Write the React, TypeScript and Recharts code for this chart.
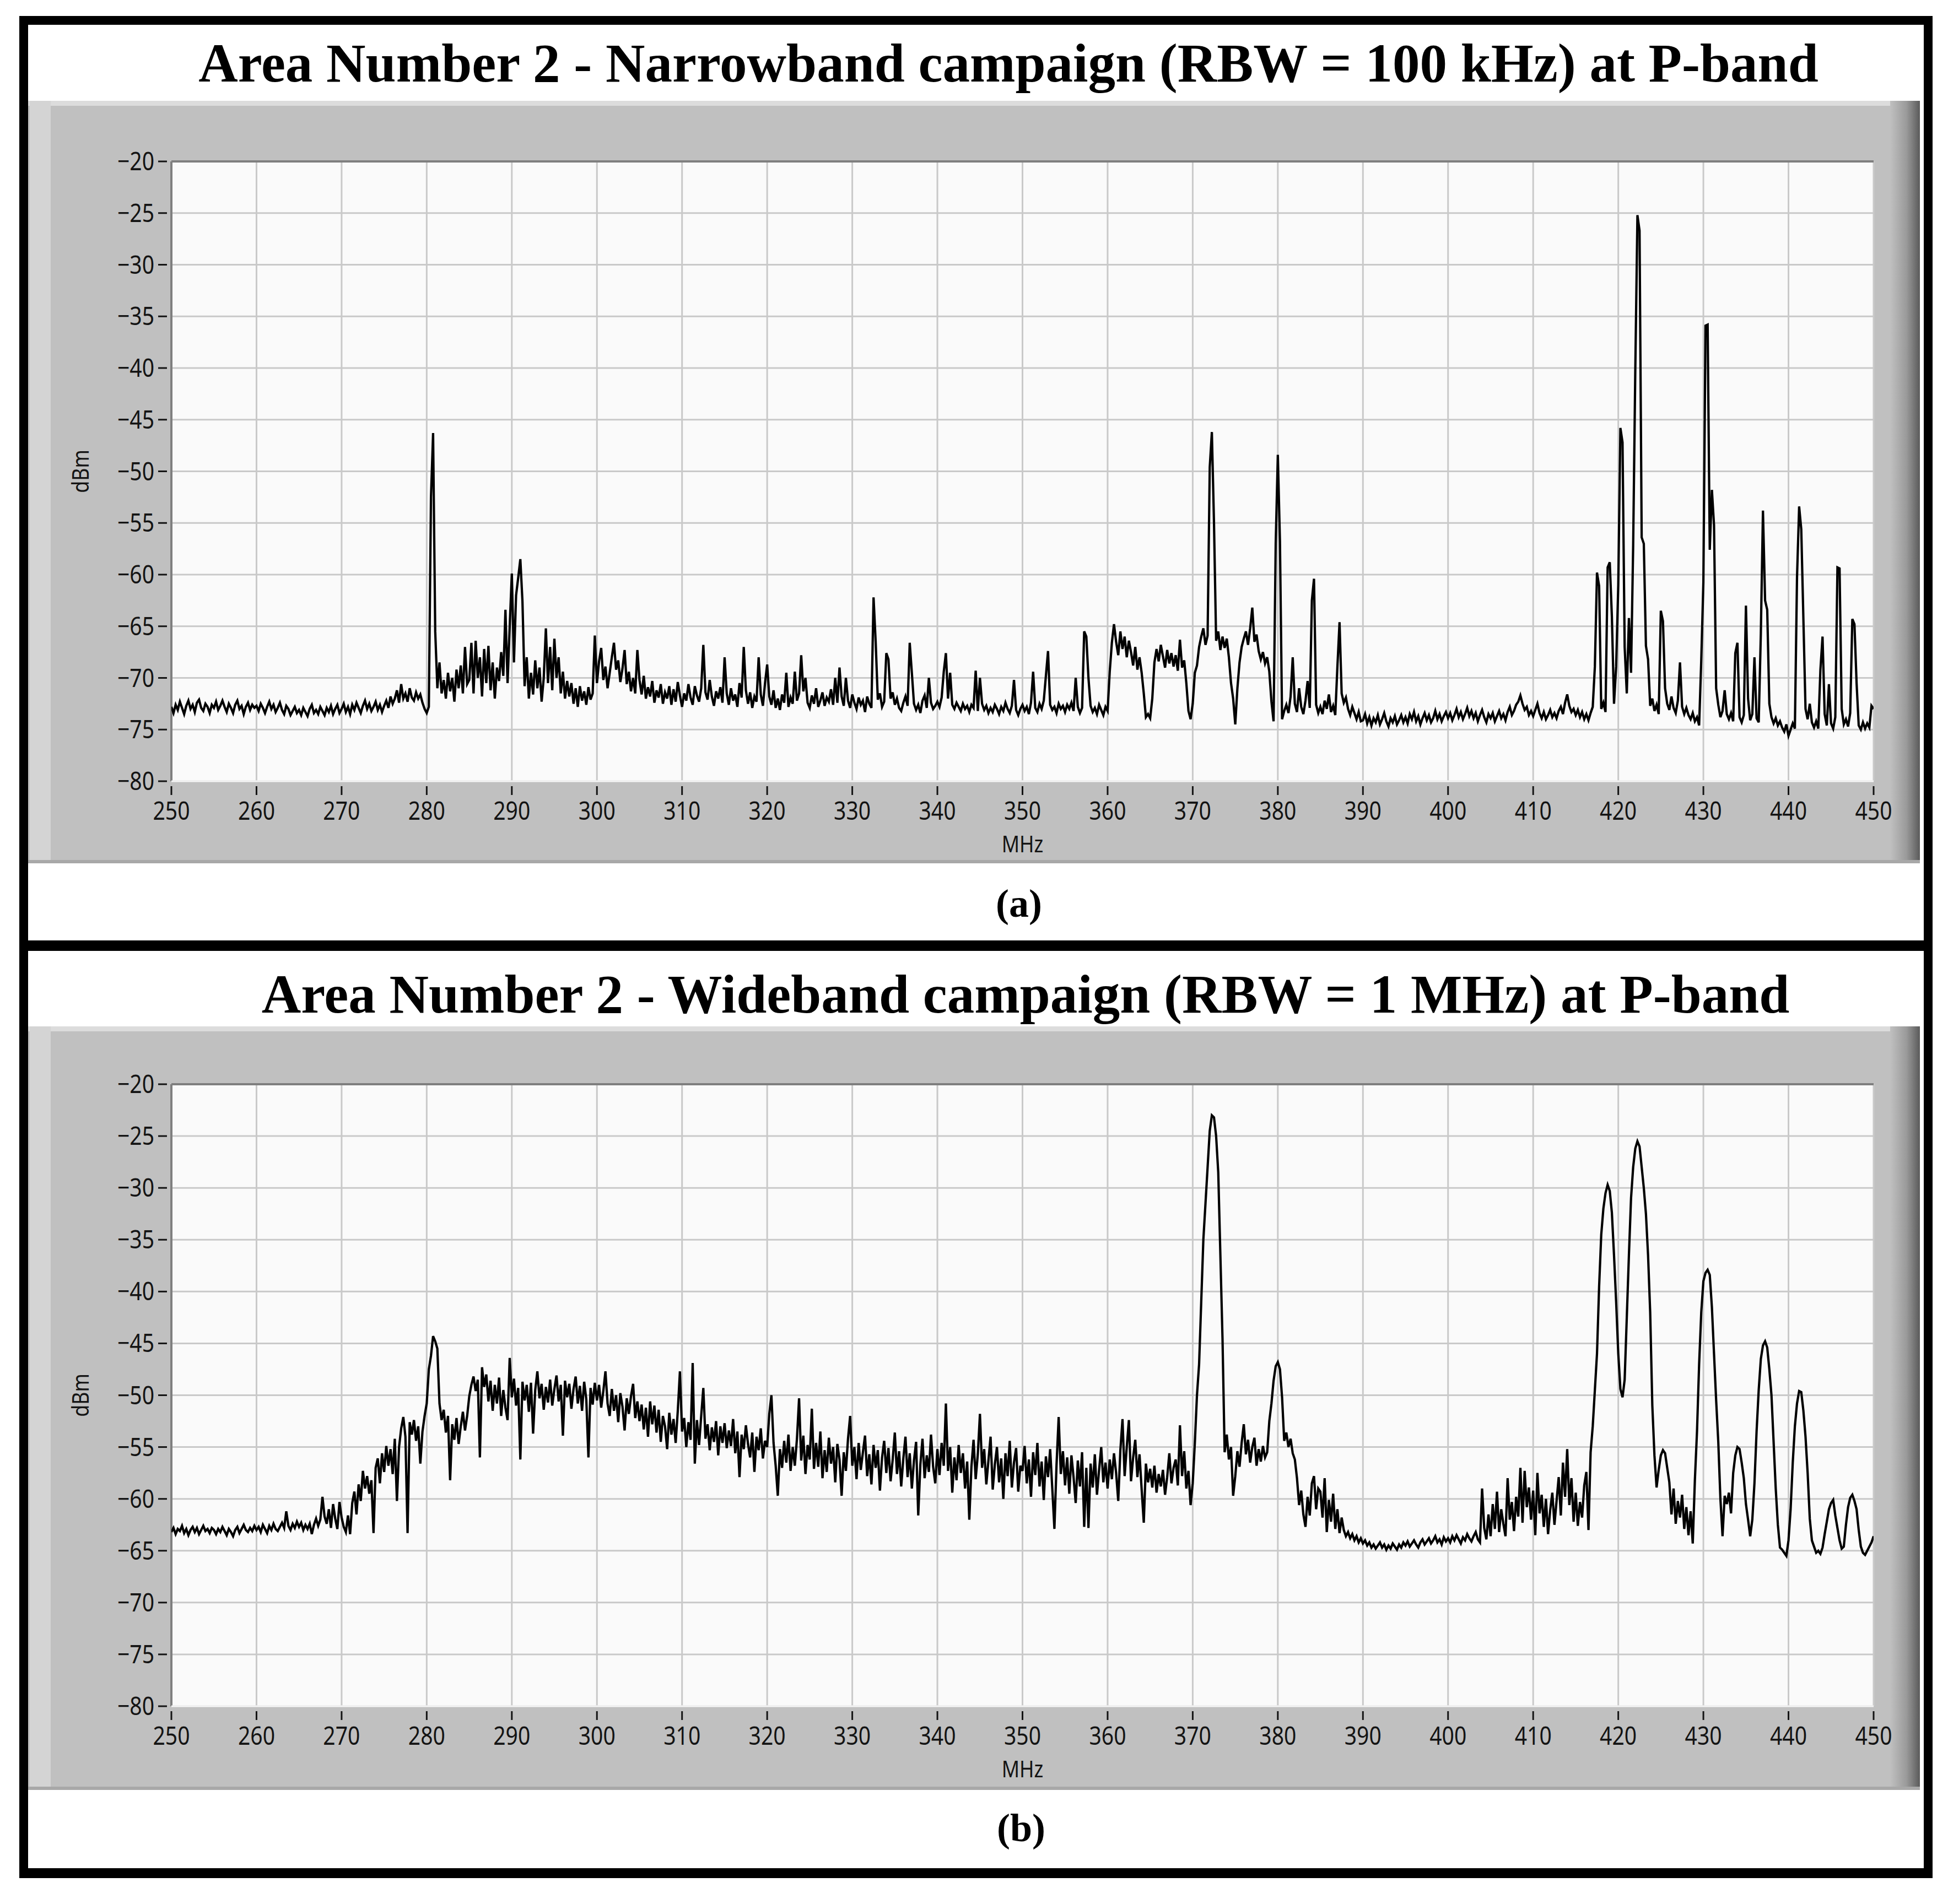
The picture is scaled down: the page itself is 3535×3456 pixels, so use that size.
import React from 'react';
import { LineChart, Line, XAxis, YAxis, CartesianGrid, ReferenceLine } from 'recharts';

// sweep starts at 250 MHz, one reading every 0.25 MHz (801 readings per trace)
const FREQ_START = 250;
const FREQ_STEP = 0.25;

const X_TICKS = [250, 260, 270, 280, 290, 300, 310, 320, 330, 340, 350, 360, 370, 380, 390, 400, 410, 420, 430, 440, 450];
const Y_TICKS = [-80, -75, -70, -65, -60, -55, -50, -45, -40, -35, -30, -25, -20];

// (a) narrowband, RBW = 100 kHz
const NARROWBAND_DBM = [
  -72.8, -73.4, -72.6, -73.1, -72.3, -72.9, -73.5, -72.7, -72.2, -73.0, -72.6, -73.3, -72.4, -72.1, -72.9, -73.2, -72.5, -72.8, -73.4, -72.6,
  -72.9, -72.3, -73.1, -72.7, -72.2, -72.8, -73.3, -72.5, -72.9, -73.4, -72.6, -72.2, -73.0, -72.7, -73.5, -72.8, -72.4, -73.1, -72.6, -72.9,
  -72.7, -73.2, -72.5, -72.9, -73.4, -72.8, -72.3, -73.0, -72.6, -73.3, -72.9, -72.4, -73.1, -73.5, -72.7, -73.0, -73.6, -73.2, -72.8, -73.4,
  -73.1, -73.6, -72.9, -73.3, -73.7, -73.0, -72.6, -73.4, -73.1, -73.5, -72.8, -73.2, -73.6, -72.9, -73.3, -72.7, -73.5, -73.0, -72.6, -73.4,
  -73.0, -72.5, -73.3, -72.8, -73.5, -72.6, -73.1, -72.4, -72.9, -73.4, -72.7, -72.2, -73.0, -72.5, -73.2, -72.8, -72.3, -73.1, -72.6, -73.3,
  -72.7, -72.2, -72.9, -71.8, -72.5, -72.0, -71.2, -72.4, -70.6, -72.0, -71.5, -72.3, -71.0, -71.9, -72.2, -71.4, -72.0, -71.6, -72.4, -73.0,
  -73.4, -72.8, -52.5, -46.3, -65.5, -71.0, -68.5, -71.5, -70.2, -72.0, -69.5, -71.3, -70.0, -72.3, -69.2, -71.0, -68.8, -71.5, -67.0, -70.6,
  -70.2, -66.6, -71.5, -66.4, -70.0, -68.0, -71.8, -67.2, -70.5, -66.9, -71.2, -68.5, -72.0, -69.0, -70.3, -67.5, -69.8, -63.4, -70.5, -65.0,
  -59.9, -68.5, -62.0, -60.3, -58.5, -62.6, -70.8, -68.0, -72.0, -69.5, -71.6, -68.3, -71.0, -69.0, -72.3, -70.0, -65.2, -70.5, -67.0, -71.2,
  -66.2, -70.0, -68.0, -71.5, -69.4, -72.0, -70.3, -71.8, -70.5, -72.5, -71.0, -72.8, -70.8, -72.2, -71.3, -72.6, -70.9, -72.1, -71.5, -65.9,
  -70.5, -68.4, -67.1, -70.2, -68.9, -71.0, -69.5, -68.0, -66.6, -69.2, -68.3, -70.4, -69.1, -67.3, -70.6, -69.4, -71.3, -70.0, -71.5, -67.3,
  -70.2, -71.6, -69.8, -72.0, -70.9, -71.8, -70.3, -72.4, -71.2, -71.9, -70.6, -72.5, -71.4, -72.0, -70.8, -72.6, -71.1, -72.3, -70.4, -71.7,
  -72.8, -71.5, -72.2, -70.6, -71.9, -72.6, -70.8, -71.7, -72.3, -71.0, -66.8, -71.4, -72.1, -70.2, -71.8, -72.7, -71.3, -72.0, -70.9, -72.4,
  -68.0, -71.5, -72.6, -71.0, -72.2, -71.6, -72.8, -70.5, -71.9, -67.0, -71.2, -72.5, -71.4, -72.9, -71.8, -72.3, -68.0, -71.6, -72.7, -70.5,
  -68.7, -71.8, -72.6, -71.2, -72.9, -72.0, -73.1, -71.6, -72.4, -69.5, -72.8, -71.9, -72.5, -69.4, -72.2, -71.5, -67.8, -71.3, -70.0, -72.4,
  -72.9, -71.7, -72.5, -71.0, -72.8, -72.2, -71.4, -72.7, -71.9, -72.3, -71.1, -72.6, -70.0, -72.4, -69.0, -71.8, -72.7, -70.0, -72.2, -72.9,
  -71.6, -72.4, -73.0, -71.9, -72.6, -72.2, -73.3, -71.8, -72.5, -72.9, -62.2, -66.5, -72.1, -71.5, -72.8, -72.3, -67.6, -68.2, -72.0, -71.4,
  -72.6, -72.0, -72.9, -73.2, -72.4, -71.8, -72.7, -66.6, -69.5, -72.5, -73.1, -72.6, -73.4, -72.2, -71.7, -72.9, -70.0, -72.4, -73.0, -72.7,
  -72.3, -72.8, -71.9, -69.4, -67.6, -72.0, -69.5, -72.6, -73.0, -72.4, -72.8, -73.2, -72.5, -73.0, -72.7, -73.3, -72.6, -72.9, -69.3, -73.2,
  -70.0, -72.5, -73.1, -72.7, -73.4, -72.9, -73.3, -72.6, -73.0, -73.5, -72.8, -73.2, -72.4, -73.0, -73.4, -72.7, -70.2, -73.1, -73.6, -73.0,
  -72.6, -73.2, -72.8, -73.5, -72.4, -69.4, -72.9, -73.3, -72.5, -73.0, -72.2, -69.8, -67.4, -72.6, -73.1, -72.8, -73.4, -72.5, -73.0, -72.7,
  -73.3, -72.6, -73.0, -72.4, -73.2, -70.0, -72.8, -73.4, -72.9, -65.5, -66.0, -70.0, -72.7, -73.3, -72.9, -73.5, -72.6, -73.1, -73.6, -72.8,
  -73.2, -69.4, -66.6, -64.8, -66.5, -67.8, -65.5, -67.2, -66.0, -68.0, -66.4, -67.5, -68.8, -67.0, -69.2, -68.0, -69.5, -71.5, -73.8, -73.5,
  -73.9, -72.0, -68.5, -67.2, -68.4, -66.8, -67.9, -69.0, -67.3, -68.6, -67.6, -68.9, -67.8, -69.3, -66.3, -69.0, -68.3, -70.5, -73.2, -74.0,
  -72.5, -69.5, -68.8, -67.0, -66.0, -65.2, -66.8, -65.9, -49.6, -46.2, -55.0, -66.4, -65.5, -67.3, -66.0, -67.1, -66.2, -68.0, -70.5, -72.0,
  -74.5, -71.0, -68.5, -67.0, -66.2, -65.5, -66.8, -65.2, -63.2, -66.5, -65.8, -67.4, -68.2, -67.5, -68.6, -68.0, -69.4, -72.3, -74.2, -57.0,
  -48.4, -56.8, -74.0, -73.2, -72.6, -73.4, -71.8, -68.0, -72.5, -73.3, -71.0, -72.8, -73.5, -72.2, -70.3, -72.9, -62.5, -60.4, -72.6, -73.4,
  -72.8, -73.5, -72.2, -73.0, -71.6, -73.3, -72.7, -73.6, -68.9, -64.6, -71.5, -72.4, -71.9, -73.0, -73.6, -72.8, -73.4, -74.0, -73.3, -74.2,
  -74.1, -73.5, -74.4, -73.8, -74.6, -73.9, -74.3, -73.6, -74.5, -74.0, -73.4, -74.2, -74.7, -73.9, -74.3, -73.7, -74.5, -74.1, -73.6, -74.3,
  -73.8, -74.4, -73.5, -74.0, -73.3, -74.2, -73.7, -74.5, -73.9, -73.4, -74.1, -73.6, -74.3, -73.9, -73.2, -74.0, -73.5, -74.2, -73.7, -73.3,
  -73.9, -73.4, -74.1, -73.6, -73.0, -73.8, -73.3, -74.0, -73.5, -72.9, -73.7, -73.2, -73.9, -73.4, -74.2, -73.6, -73.1, -73.8, -74.3, -73.5,
  -73.9, -73.4, -74.2, -73.7, -73.2, -73.9, -73.5, -74.1, -73.3, -72.8, -73.6, -73.2, -72.6, -72.3, -71.7, -72.5, -73.1, -72.8, -73.6, -73.2,
  -73.7, -73.1, -72.5, -73.4, -73.9, -73.3, -74.0, -73.6, -73.1, -73.8, -73.4, -73.9, -73.2, -72.8, -73.5, -72.4, -71.6, -72.7, -73.3, -73.0,
  -73.6, -73.1, -73.8, -73.3, -74.0, -73.5, -74.1, -73.4, -72.8, -68.9, -59.8, -61.1, -73.0, -72.4, -73.3, -59.3, -58.8, -64.1, -72.5, -68.9,
  -61.0, -45.8, -47.2, -67.0, -71.5, -64.2, -69.5, -57.2, -40.2, -25.2, -26.7, -56.4, -57.0, -66.9, -68.2, -72.7, -72.0, -73.2, -72.6, -73.5,
  -63.5, -64.5, -71.0, -72.5, -73.1, -71.8, -72.9, -73.4, -72.2, -68.5, -72.8, -73.5, -72.9, -73.6, -74.0, -73.4, -74.2, -73.8, -74.6, -68.3,
  -60.7, -35.9, -35.8, -57.6, -51.8, -55.2, -71.0, -72.6, -73.8, -73.2, -71.2, -73.5, -74.0, -73.4, -74.2, -67.6, -66.6, -73.8, -74.3, -73.6,
  -63.0, -72.0, -74.1, -73.5, -68.0, -73.9, -74.3, -65.7, -53.8, -62.5, -63.4, -72.5, -73.8, -74.4, -73.9, -74.6, -74.2, -74.8, -75.2, -74.5,
  -75.6, -75.0, -74.4, -74.9, -60.3, -53.4, -55.6, -64.3, -73.0, -74.0, -72.5, -74.3, -74.8, -74.2, -74.9, -69.2, -66.0, -73.5, -74.6, -70.6,
  -74.4, -74.9, -73.8, -59.3, -59.4, -73.0, -74.5, -74.0, -74.7, -73.4, -64.3, -64.8, -70.5, -74.6, -75.0, -74.3, -74.9, -74.4, -74.8, -72.7,
  -73.0,
];

// (b) wideband, RBW = 1 MHz
const WIDEBAND_DBM = [
  -63.2, -62.8, -63.4, -62.9, -63.1, -62.6, -63.3, -62.9, -63.5, -63.0, -62.7, -63.2, -62.8, -63.4, -63.0, -62.6, -63.1, -62.9, -63.3, -62.8,
  -63.0, -63.4, -62.9, -63.2, -62.7, -63.1, -63.5, -62.9, -63.2, -63.6, -63.0, -62.7, -63.3, -62.9, -62.5, -63.0, -63.2, -62.8, -63.1, -62.6,
  -63.0, -62.7, -63.2, -62.5, -62.9, -63.3, -62.6, -63.0, -62.4, -62.9, -63.1, -62.7, -62.3, -62.8, -61.2, -62.6, -63.0, -62.4, -62.8, -62.2,
  -62.7, -62.3, -63.0, -62.5, -62.9, -62.4, -63.4, -62.5, -61.9, -62.6, -62.0, -59.8, -61.7, -62.4, -61.0, -62.8, -60.5, -61.9, -62.9, -60.3,
  -61.8, -62.7, -63.2, -61.6, -63.4, -60.4, -59.3, -61.5, -58.6, -60.2, -57.3, -59.0, -57.8, -59.5, -58.2, -63.3, -57.0, -56.1, -58.5, -55.6,
  -57.4, -54.9, -56.8, -55.2, -57.6, -54.2, -60.2, -55.0, -53.2, -52.1, -54.0, -63.3, -52.6, -53.8, -52.4, -54.4, -53.0, -56.6, -53.5, -52.0,
  -50.8, -47.5, -46.2, -44.3, -44.8, -45.5, -50.8, -52.4, -51.4, -53.6, -52.0, -58.2, -52.8, -54.3, -52.2, -54.7, -53.0, -51.6, -53.4, -52.0,
  -50.1, -49.0, -48.2, -49.6, -48.5, -56.0, -47.3, -49.2, -48.0, -50.6, -48.6, -51.5, -49.0, -50.8, -48.3, -52.0, -49.5, -51.2, -52.4, -46.4,
  -50.2, -48.4, -51.0, -49.3, -56.2, -48.7, -50.5, -49.0, -51.6, -48.8, -53.7, -49.5, -47.7, -50.3, -48.9, -51.4, -49.2, -50.7, -48.5, -51.0,
  -49.4, -48.1, -50.6, -49.0, -53.9, -48.6, -50.2, -48.9, -51.3, -49.4, -48.2, -50.8, -49.1, -51.5, -48.7, -50.4, -56.0, -49.3, -50.9, -48.8,
  -50.5, -49.0, -51.2, -49.6, -47.7, -50.8, -52.0, -49.4, -51.5, -50.0, -52.6, -49.8, -51.1, -53.4, -50.3, -51.8, -50.1, -48.9, -52.2, -50.6,
  -52.5, -50.9, -53.3, -51.2, -54.0, -50.6, -52.8, -51.0, -53.6, -51.4, -54.5, -52.0, -53.0, -55.2, -51.7, -53.8, -52.3, -54.6, -51.5, -47.7,
  -53.5, -52.2, -55.0, -52.6, -54.3, -46.9, -56.6, -52.4, -54.8, -52.0, -49.3, -54.2, -52.8, -55.3, -53.1, -54.5, -52.5, -55.8, -53.0, -54.6,
  -52.7, -55.1, -53.4, -54.9, -52.3, -55.6, -53.5, -57.9, -53.8, -55.2, -52.9, -54.7, -56.0, -53.6, -57.4, -54.0, -55.3, -53.2, -56.1, -54.4,
  -55.0, -51.8, -50.0, -54.6, -56.8, -59.7, -55.2, -57.0, -54.4, -56.5, -53.8, -57.3, -55.0, -56.8, -54.2, -50.3, -56.3, -53.9, -57.6, -54.8,
  -56.2, -51.3, -57.1, -54.6, -56.9, -53.5, -58.0, -55.3, -57.4, -54.1, -56.6, -55.0, -58.4, -54.7, -56.2, -59.7, -55.5, -57.3, -54.2, -52.0,
  -56.8, -55.0, -58.1, -54.6, -57.2, -55.5, -53.9, -57.8, -55.7, -58.6, -54.8, -57.0, -55.3, -59.2, -56.0, -54.4, -57.5, -55.1, -58.3, -56.2,
  -53.6, -57.6, -55.4, -58.8, -56.1, -54.0, -57.9, -55.6, -59.0, -56.3, -54.5, -61.6, -56.7, -54.2, -58.0, -55.8, -57.4, -53.8, -56.9, -58.5,
  -55.2, -57.7, -54.6, -56.8, -50.8, -57.3, -55.0, -59.4, -56.0, -58.2, -54.8, -57.5, -55.6, -59.0, -56.4, -62.0, -56.9, -54.3, -58.1, -55.7,
  -51.8, -57.0, -55.2, -58.6, -56.3, -54.0, -59.1, -56.7, -55.0, -58.4, -56.1, -60.0, -55.6, -57.8, -54.4, -58.9, -56.5, -55.1, -59.3, -56.8,
  -57.3, -54.9, -58.5, -56.2, -59.8, -55.5, -57.7, -54.6, -58.8, -56.4, -60.1, -55.9, -57.9, -55.2, -59.0, -62.9, -56.7, -52.1, -57.6, -55.4,
  -58.7, -56.0, -59.5, -55.8, -57.9, -60.4, -56.3, -58.8, -55.5, -62.7, -57.0, -62.8, -56.6, -58.9, -55.7, -59.6, -57.2, -55.0, -58.4, -56.5,
  -59.0, -56.2, -58.1, -55.6, -57.5, -60.2, -55.3, -52.3, -57.8, -55.0, -52.4, -58.3, -56.0, -54.3, -57.9, -55.7, -59.1, -62.3, -56.6, -58.4,
  -57.1, -58.9, -56.8, -59.4, -57.6, -58.8, -57.2, -59.6, -57.9, -55.6, -58.5, -57.0, -56.2, -58.7, -52.9, -57.8, -55.4, -59.0, -57.3, -60.6,
  -58.5, -54.6, -50.0, -47.0, -41.0, -35.0, -31.5, -28.0, -24.5, -23.0, -23.2, -25.0, -28.5, -36.5, -44.5, -55.5, -53.8, -56.2, -55.0, -59.7,
  -57.8, -55.4, -56.9, -54.6, -52.8, -55.7, -54.3, -56.5, -55.0, -54.1, -56.8, -55.2, -56.4, -54.9, -56.0, -55.5, -52.5, -50.8, -48.6, -47.2,
  -46.8, -47.5, -50.2, -54.4, -53.6, -55.0, -54.2, -55.6, -56.2, -58.0, -60.6, -59.2, -61.5, -62.7, -59.8, -61.6, -58.5, -57.8, -61.0, -59.0,
  -59.3, -61.8, -58.0, -63.2, -60.1, -62.2, -59.5, -62.9, -61.0, -63.3, -61.8, -63.0, -63.6, -63.2, -63.8, -63.4, -64.0, -63.6, -64.2, -63.8,
  -64.3, -64.0, -64.5, -64.2, -64.7, -64.4, -64.8, -64.5, -64.2, -64.7, -64.4, -64.9, -64.5, -64.8, -64.3, -64.6, -64.9, -64.4, -64.7, -64.2,
  -64.5, -64.1, -64.6, -64.3, -64.0, -64.4, -64.7, -64.2, -63.9, -64.4, -64.1, -63.8, -64.3, -64.0, -63.6, -64.2, -63.9, -64.4, -63.7, -64.1,
  -63.8, -64.2, -63.6, -64.0, -63.5, -63.9, -64.3, -63.7, -64.0, -63.4, -63.8, -64.1, -63.6, -63.2, -63.9, -64.2, -59.0, -62.8, -63.9, -61.5,
  -63.6, -60.5, -62.9, -59.3, -63.2, -61.0, -62.4, -63.6, -58.0, -62.0, -60.3, -63.1, -59.8, -61.7, -57.0, -62.3, -57.3, -60.8, -58.9, -62.0,
  -59.2, -63.5, -57.5, -61.4, -59.6, -62.7, -60.0, -63.4, -61.1, -59.4, -62.5, -60.2, -57.9, -61.6, -56.5, -59.8, -55.2, -60.6, -58.0, -62.2,
  -59.4, -62.6, -60.3, -61.8, -58.7, -57.4, -63.0, -55.5, -53.0, -49.5, -46.0, -39.5, -34.5, -32.0, -30.5, -29.7, -30.3, -32.4, -36.5, -41.0,
  -46.0, -49.4, -50.2, -48.5, -42.5, -36.5, -31.0, -28.0, -26.2, -25.5, -26.0, -28.0, -30.0, -32.5, -36.5, -42.0, -51.0, -55.8, -58.9, -57.2,
  -55.8, -55.3, -55.6, -57.0, -58.4, -61.5, -59.0, -62.4, -60.2, -61.8, -59.6, -62.9, -60.8, -63.5, -61.2, -64.3, -58.2, -53.5, -47.0, -42.0,
  -39.0, -38.2, -37.9, -38.4, -41.5, -46.0, -50.5, -54.5, -60.0, -63.6, -59.7, -60.5, -59.4, -61.4, -57.5, -55.8, -55.0, -55.2, -56.5, -58.0,
  -60.5, -62.0, -63.6, -62.0, -58.5, -53.5, -49.5, -46.5, -45.2, -44.8, -45.4, -47.5, -50.0, -54.5, -59.0, -62.5, -64.7, -64.9, -65.2, -65.5,
  -64.0, -61.0, -56.5, -53.0, -50.8, -49.6, -49.7, -51.5, -54.0, -57.5, -61.9, -64.0, -64.6, -65.2, -65.0, -65.3, -64.7, -63.4, -62.2, -61.0,
  -60.4, -60.1, -61.6, -62.8, -64.0, -64.8, -64.6, -62.5, -60.8, -59.9, -59.6, -60.2, -61.0, -63.0, -64.6, -65.2, -65.4, -65.0, -64.6, -64.2,
  -63.6,
];

const TICK_FONT = 'Noto Sans';
const TICK_COLOR = '#141414';

function toRows(values: number[]) {
  return values.map((dbm, i) => ({ mhz: FREQ_START + i * FREQ_STEP, dbm }));
}

function YTick({ x, y, payload }: any) {
  const label = String(payload.value).replace('-', '\u2212');
  return (
    <g>
      <line x1={x - 24} x2={x - 8} y1={y} y2={y} stroke={TICK_COLOR} strokeWidth={3} />
      <text
        transform={`translate(${x - 31},${y + 16}) scale(0.85,1)`}
        textAnchor="end"
        fontFamily={TICK_FONT}
        fontSize={46}
        fill={TICK_COLOR}
      >
        {label}
      </text>
    </g>
  );
}

function XTick({ x, y, payload }: any) {
  return (
    <g>
      <line x1={x} x2={x} y1={y + 9} y2={y + 25} stroke={TICK_COLOR} strokeWidth={3} />
      <text
        transform={`translate(${x},${y + 70}) scale(0.85,1)`}
        textAnchor="middle"
        fontFamily={TICK_FONT}
        fontSize={46}
        fill={TICK_COLOR}
      >
        {payload.value}
      </text>
    </g>
  );
}

function DbmLabel({ viewBox }: any) {
  const cx = viewBox.x + 96;
  const cy = viewBox.y + viewBox.height / 2;
  return (
    <text
      transform={`translate(${cx + 14},${cy}) rotate(-90) scale(0.85,1)`}
      textAnchor="middle"
      fontFamily={TICK_FONT}
      fontSize={42}
      fill={TICK_COLOR}
    >
      dBm
    </text>
  );
}

function MhzLabel({ viewBox }: any) {
  const cx = viewBox.x + viewBox.width / 2;
  return (
    <text
      transform={`translate(${cx},${viewBox.y + 129}) scale(0.85,1)`}
      textAnchor="middle"
      fontFamily={TICK_FONT}
      fontSize={42}
      fill={TICK_COLOR}
    >
      MHz
    </text>
  );
}

type PanelProps = {
  values: number[];
  top: number;
  height: number;
  plotTop: number;
  plotBottom: number;
};

const PANEL_LEFT = 51;
const PANEL_WIDTH = 3433;

function SpectrumPanel({ values, top, height, plotTop, plotBottom }: PanelProps) {
  const rows = toRows(values);
  return (
    <div
      style={{
        position: 'absolute',
        left: PANEL_LEFT,
        top,
        width: PANEL_WIDTH,
        height,
        background: '#c0c0c0',
      }}
    >
      <div style={{ position: 'absolute', left: 0, top: 0, width: PANEL_WIDTH, height: 9, background: '#dcdcdc' }} />
      <div style={{ position: 'absolute', left: 3, top: 0, width: 38, height, background: '#d4d4d4' }} />
      <div
        style={{
          position: 'absolute',
          right: 0,
          top: 0,
          width: 54,
          height,
          background: 'linear-gradient(to right, #c0c0c0, #9a9a9a 55%, #5a5a5a)',
        }}
      />
      <div style={{ position: 'absolute', left: 0, bottom: 0, width: PANEL_WIDTH, height: 6, background: '#a8a8a8' }} />
      <div style={{ position: 'absolute', left: 0, top: 0 }}>
        <LineChart
          width={PANEL_WIDTH}
          height={height}
          data={rows}
          margin={{ top: plotTop, right: 84, left: 0, bottom: 0 }}
        >
          <CartesianGrid stroke="#c9c9c9" strokeWidth={3} fill="#fafafa" fillOpacity={1} />
          <XAxis
            dataKey="mhz"
            type="number"
            domain={[250, 450]}
            ticks={X_TICKS}
            interval={0}
            height={plotBottom}
            tickSize={0}
            tickMargin={0}
            tickLine={false}
            axisLine={false}
            tick={<XTick />}
            label={<MhzLabel />}
            allowDataOverflow
          />
          <YAxis
            type="number"
            domain={[-80, -20]}
            ticks={Y_TICKS}
            interval={0}
            width={260}
            tickSize={0}
            tickMargin={0}
            tickLine={false}
            axisLine={false}
            tick={<YTick />}
            label={<DbmLabel />}
            allowDataOverflow
          />
          <ReferenceLine y={-20} stroke="#7f7f7f" strokeWidth={4} />
          <ReferenceLine x={250} stroke="#7f7f7f" strokeWidth={4} />
          <ReferenceLine y={-80} stroke="#f4f4f4" strokeWidth={3} />
          <Line
            type="linear"
            dataKey="dbm"
            stroke="#000"
            strokeWidth={4.2}
            dot={false}
            isAnimationActive={false}
          />
        </LineChart>
      </div>
    </div>
  );
}

export default function App() {
  return (
    <div
      style={{
        position: 'absolute',
        left: 0,
        top: 0,
        width: 3535,
        height: 3456,
        background: '#fff',
        overflow: 'hidden',
      }}
    >
      <div
        style={{
          position: 'absolute',
          left: 35,
          top: 29,
          width: 3472,
          height: 3380,
          border: '16px solid #000',
          borderBottomWidth: 18,
          boxSizing: 'border-box',
        }}
      />
      <div style={{ position: 'absolute', left: 35, top: 1707, width: 3472, height: 19, background: '#000' }} />

      <svg width={3535} height={3456} style={{ position: 'absolute', left: 0, top: 0 }}>
        <g fontFamily="Liberation Serif, Times New Roman, serif" fontWeight="bold" fill="#000" textAnchor="middle">
          <text x={1830} y={148} fontSize={99}>
            Area Number 2 - Narrowband campaign (RBW = 100 kHz) at P-band
          </text>
          <text x={1849} y={1664} fontSize={72}>
            (a)
          </text>
          <text x={1861} y={1838} fontSize={99}>
            Area Number 2 - Wideband campaign (RBW = 1 MHz) at P-band
          </text>
          <text x={1853} y={3342} fontSize={72}>
            (b)
          </text>
        </g>
      </svg>

      <SpectrumPanel values={NARROWBAND_DBM} top={183} height={1384} plotTop={110} plotBottom={149} />
      <SpectrumPanel values={WIDEBAND_DBM} top={1863} height={1386} plotTop={105} plotBottom={152} />
    </div>
  );
}
